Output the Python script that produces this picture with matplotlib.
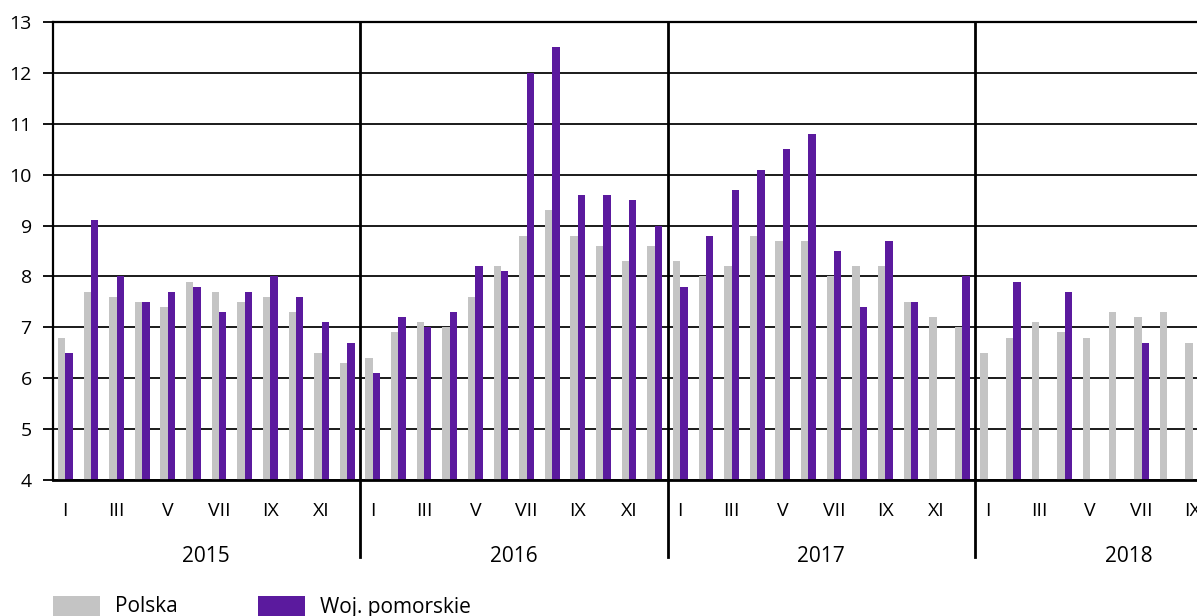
import numpy as np
import matplotlib.pyplot as plt
from matplotlib.patches import Rectangle

plt.rcParams['font.family'] = ['Open Sans', 'DejaVu Sans']

# --- dane: miesiące 2015 I – 2018 IX ---
years = ['2015', '2016', '2017', '2018']
roman = ['I', 'II', 'III', 'IV', 'V', 'VI', 'VII', 'VIII', 'IX', 'X', 'XI', 'XII']

polska = [
    6.8, 7.7, 7.6, 7.5, 7.4, 7.9, 7.7, 7.5, 7.6, 7.3, 6.5, 6.3,   # 2015
    6.4, 6.9, 7.1, 7.0, 7.6, 8.2, 8.8, 9.3, 8.8, 8.6, 8.3, 8.6,   # 2016
    8.3, 8.0, 8.2, 8.8, 8.7, 8.7, 8.0, 8.2, 8.2, 7.5, 7.2, 7.0,   # 2017
    6.5, 6.8, 7.1, 6.9, 6.8, 7.3, 7.2, 7.3, 6.7,                  # 2018
]
pomorskie = [
    6.5, 9.1, 8.0, 7.5, 7.7, 7.8, 7.3, 7.7, 8.0, 7.6, 7.1, 6.7,
    6.1, 7.2, 7.0, 7.3, 8.2, 8.1, 12.0, 12.5, 9.6, 9.6, 9.5, 9.0,
    7.8, 8.8, 9.7, 10.1, 10.5, 10.8, 8.5, 7.4, 8.7, 7.5, np.nan, 8.0,
    np.nan, 7.9, np.nan, 7.7, np.nan, np.nan, 6.7, np.nan, np.nan,
]

GRAY = '#C4C4C4'
PURPLE = '#5B1A9E'

W, H = 1197, 616
fig = plt.figure(figsize=(W / 100, H / 100), dpi=100)

x0_px, bottom_px, top_px = 52.5, 480, 22
month_px = 307.5 / 12
ax = fig.add_axes([x0_px / W, (H - bottom_px) / H, 1 - x0_px / W, (bottom_px - top_px) / H])

n = len(polska)
x = np.arange(n) + 0.5
bw = 0.29
ax.bar(x - bw / 2, np.array(polska) - 4, bw, bottom=4, color=GRAY, zorder=2)
ax.bar(x + bw / 2, np.array(pomorskie) - 4, bw, bottom=4, color=PURPLE, zorder=2)

ax.set_xlim(0, (W - x0_px) / month_px)
ax.set_ylim(4, 13)
ax.set_yticks(range(4, 14))
ax.yaxis.grid(True, color='#1a1a1a', lw=1.4, zorder=0)
ax.set_axisbelow(True)

ticks = [i + 0.5 for i in range(n) if i % 2 == 0]
ax.set_xticks(ticks)
ax.set_xticklabels([roman[int(t) % 12] for t in ticks])
ax.tick_params(axis='x', length=0, pad=16, labelsize=14)
ax.tick_params(axis='y', length=7, width=1.3, pad=8, labelsize=14)

ax.spines['right'].set_visible(False)
ax.spines['top'].set_linewidth(1.6)
ax.spines['bottom'].set_linewidth(2)
ax.spines['left'].set_linewidth(1.6)

# linie rozdzielające lata i podpisy lat
drop = (557 - bottom_px) / (bottom_px - top_px)
for k in range(1, len(years)):
    ax.axvline(12 * k, ymin=-drop, ymax=1, color='black', lw=2, clip_on=False, zorder=3)
for k, yr in enumerate(years):
    ax.text(12 * k + 6, -drop, yr, transform=ax.get_xaxis_transform(),
            ha='center', va='center', fontsize=15)

# legenda
for lx, col, lab in [(53, GRAY, 'Polska'), (258, PURPLE, 'Woj. pomorskie')]:
    fig.add_artist(Rectangle((lx / W, 0), 47 / W, 20 / H, transform=fig.transFigure,
                             color=col, lw=0))
    fig.text((lx + 62) / W, 9 / H, lab, ha='left', va='center', fontsize=15)

fig.savefig('out.png', dpi=100)
